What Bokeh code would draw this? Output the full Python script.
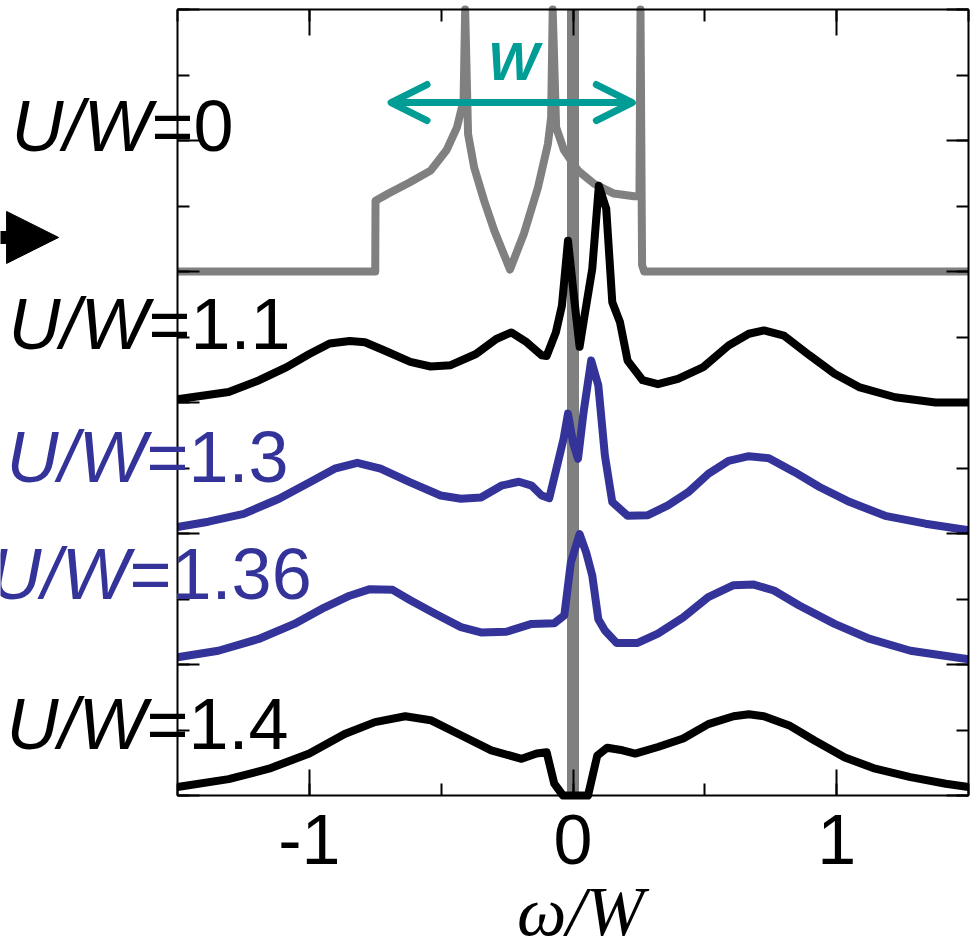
from bokeh.plotting import figure
from bokeh.models import (LinearAxis, SingleIntervalTicker, Label, Arrow,
                          OpenHead, NormalHead, CustomLabelingPolicy)
from bokeh.embed import file_html
from bokeh.resources import INLINE

# ---------------- data (spectral functions, relative to each baseline) ----
u_values = ["0", "1.1", "1.3", "1.36", "1.4"]
offsets = [8, 6, 4, 2, 0]

x_u0 = [-1.5, -0.75, -0.749, -0.70, -0.62, -0.54, -0.48, -0.44, -0.415, -0.409,
        -0.398, -0.375, -0.337, -0.299, -0.239, -0.186, -0.133, -0.095, -0.083,
        -0.077, -0.064, -0.034, 0.019, 0.080, 0.155, 0.231, 0.252, 0.256, 0.262,
        0.27, 1.5]
y_u0 = [0, 0, 1.08, 1.19, 1.36, 1.54, 1.85, 2.20, 2.61, 4.0,
        2.1, 1.59, 1.08, 0.63, 0.03, 0.58, 1.28, 1.95, 2.35,
        4.0, 2.2, 1.85, 1.54, 1.34, 1.19, 1.15, 1.15, 4.0, 0.1,
        0, 0]

x_u11 = [-1.5, -1.306, -1.19, -1.086, -1.0, -0.923, -0.847, -0.789, -0.713, -0.617,
         -0.540, -0.464, -0.368, -0.291, -0.234, -0.176, -0.119, -0.10, -0.065,
         -0.042, -0.019, 0.006, 0.025, 0.044, 0.073, 0.098, 0.126, 0.149, 0.178,
         0.207, 0.264, 0.322, 0.398, 0.494, 0.59, 0.667, 0.724, 0.80, 0.897,
         0.992, 1.088, 1.222, 1.375, 1.5]
y_u11 = [0.05, 0.16, 0.34, 0.54, 0.74, 0.90, 0.94, 0.92, 0.79, 0.62,
         0.55, 0.57, 0.74, 0.97, 1.07, 0.92, 0.72, 0.71, 1.07,
         1.48, 2.47, 1.53, 0.85, 1.33, 2.04, 3.31, 2.96, 1.53, 1.23,
         0.64, 0.34, 0.28, 0.36, 0.54, 0.87, 1.05, 1.10, 1.02, 0.72,
         0.44, 0.23, 0.08, 0.0, 0.0]

x_u13 = [-1.5, -1.383, -1.249, -1.115, -1.0, -0.904, -0.818, -0.73, -0.617, -0.502,
         -0.425, -0.349, -0.272, -0.205, -0.157, -0.119, -0.09, -0.057, -0.036,
         -0.019, 0.0, 0.019, 0.04, 0.069, 0.096, 0.121, 0.149, 0.207, 0.284,
         0.36, 0.437, 0.513, 0.59, 0.667, 0.743, 0.839, 0.935, 1.05, 1.184,
         1.337, 1.5]
y_u13 = [0.10, 0.18, 0.30, 0.53, 0.78, 0.99, 1.08, 0.99, 0.78, 0.58,
         0.53, 0.55, 0.73, 0.79, 0.73, 0.58, 0.54, 1.09, 1.44,
         1.83, 1.39, 1.14, 1.85, 2.64, 2.26, 1.19, 0.48, 0.27, 0.28,
         0.43, 0.63, 0.91, 1.11, 1.18, 1.15, 0.94, 0.71, 0.48, 0.27,
         0.15, 0.05]

x_u136 = [-1.5, -1.345, -1.192, -1.057, -0.943, -0.847, -0.77, -0.684, -0.617,
          -0.521, -0.425, -0.349, -0.253, -0.157, -0.071, -0.033, -0.008, 0.025,
          0.05, 0.073, 0.096, 0.121, 0.165, 0.245, 0.322, 0.418, 0.513, 0.609,
          0.686, 0.762, 0.858, 0.992, 1.126, 1.28, 1.5]
y_u136 = [0.11, 0.21, 0.39, 0.62, 0.87, 1.05, 1.15, 1.14, 0.98,
          0.77, 0.57, 0.49, 0.50, 0.62, 0.63, 0.75, 1.56, 1.99,
          1.71, 1.36, 0.69, 0.52, 0.33, 0.33, 0.47, 0.72, 1.03, 1.21,
          1.22, 1.13, 0.90, 0.62, 0.39, 0.21, 0.08]

x_u14 = [-1.5, -1.306, -1.153, -1.0, -0.866, -0.751, -0.636, -0.540, -0.425, -0.31,
         -0.195, -0.138, -0.10, -0.071, -0.038, 0.057, 0.092, 0.13, 0.188, 0.236,
         0.322, 0.418, 0.513, 0.609, 0.667, 0.724, 0.82, 0.916, 1.031, 1.146,
         1.28, 1.414, 1.5]
y_u14 = [0.13, 0.25, 0.41, 0.64, 0.94, 1.12, 1.21, 1.15, 0.92, 0.69,
         0.56, 0.64, 0.66, 0.18, 0.0, 0.0, 0.61, 0.73, 0.69, 0.64,
         0.74, 0.87, 1.09, 1.21, 1.24, 1.21, 1.07, 0.84, 0.58, 0.41,
         0.28, 0.18, 0.13]

xs_all = [x_u0, x_u11, x_u13, x_u136, x_u14]
ys_all = [y_u0, y_u11, y_u13, y_u136, y_u14]

x_ticks_labels = {-1: "-1", 0: "0", 1: "1"}
x_lim = (-1.5, 1.5)
y_lim = (0, 12)
band_width_span = [-0.69, 0.225]   # the "W" double arrow

# ---------------- styles / layout ----------------
GRAY = "#808080"
BLUE = "#333399"
TEAL = "#009C96"
colors = [GRAY, "black", BLUE, BLUE, "black"]
FONT = "Liberation Sans"

W_PX, H_PX = 977, 939
FRAME_L, FRAME_R, FRAME_T, FRAME_B = 177, 968, 9, 795
sx = (FRAME_R - FRAME_L) / (x_lim[1] - x_lim[0])
sy = (FRAME_B - FRAME_T) / (y_lim[1] - y_lim[0])
xr = (x_lim[0] - FRAME_L / sx, x_lim[1] + (W_PX - FRAME_R) / sx)
yr = (y_lim[0] - (H_PX - FRAME_B) / sy, y_lim[1] + FRAME_T / sy)
BASE_FIX = 0.37   # baseline correction for Label text, in em

def ybase(y, font_px):
    return y + BASE_FIX * font_px / sy

p = figure(width=W_PX, height=H_PX, x_range=xr, y_range=yr,
           output_backend="svg", toolbar_location=None,
           x_axis_location=None, y_axis_location=None,
           min_border=0, min_border_left=0, min_border_right=0,
           min_border_top=0, min_border_bottom=0)
p.background_fill_color = "white"
p.border_fill_color = "white"
p.outline_line_color = None
p.xgrid.visible = False
p.ygrid.visible = False

no_labels = CustomLabelingPolicy(code="""
try { for (const i of Array.from(indices)) indices.unset(i) } catch (e) {}
return indices
""")

def make_axis(loc, bounds, interval, major_in, minor_in, show_labels=False):
    ax = LinearAxis(fixed_location=loc, bounds=bounds,
                    ticker=SingleIntervalTicker(interval=interval, num_minor_ticks=2))
    ax.axis_line_color = "black"
    ax.axis_line_width = 2
    ax.major_tick_line_width = 2
    ax.minor_tick_line_width = 2
    ax.major_tick_line_color = "black"
    ax.minor_tick_line_color = "black"
    ax.major_tick_in = major_in
    ax.major_tick_out = 0
    ax.minor_tick_in = minor_in
    ax.minor_tick_out = 0
    if not show_labels:
        ax.major_label_policy = no_labels
        ax.major_label_text_font_size = "0px"
        ax.major_label_standoff = 0
    return ax

xb = make_axis(y_lim[0], x_lim, 1, 26, 12, show_labels=True)
xb.major_label_overrides = x_ticks_labels
xb.major_label_text_font = FONT
xb.major_label_text_font_size = "70px"
xb.major_label_text_color = "black"
xb.major_label_standoff = 19
p.add_layout(xb, "below")
p.add_layout(make_axis(y_lim[1], x_lim, 1, 26, 12), "above")
p.add_layout(make_axis(x_lim[0], y_lim, 2, 22, 12), "left")
p.add_layout(make_axis(x_lim[1], y_lim, 2, 22, 12), "right")

# vertical line at omega = 0 (behind curves)
p.line([0, 0], list(y_lim), line_color=GRAY, line_width=12, line_cap="butt")

# curves
for xs, ys, off, col in zip(xs_all, ys_all, offsets, colors):
    p.line(xs, [v + off for v in ys], line_color=col,
           line_width=8, line_join="round", line_cap="butt")

# "W" bandwidth arrow
p.add_layout(Arrow(x_start=band_width_span[0], x_end=band_width_span[1],
                   y_start=10.58, y_end=10.58, line_color=TEAL, line_width=7,
                   start=OpenHead(size=36, line_color=TEAL, line_width=7,
                                  line_cap="round", line_join="round"),
                   end=OpenHead(size=36, line_color=TEAL, line_width=7,
                                line_cap="round", line_join="round")))
p.add_layout(Label(x=-0.2257, y=ybase(10.916, 54), text="W", text_font=FONT,
                   text_font_style="bold italic", text_font_size="54px",
                   text_color=TEAL, text_align="center",
                   text_baseline="alphabetic"))

# side labels U/W=...
LAB_PX = 72
lab_x = [-1.5986, -1.610, -1.6176, -1.682, -1.6176]
lab_y = [9.817, 6.794, 4.763, 2.977, 0.687]
lab_colors = ["black", "black", BLUE, BLUE, "black"]
for u, lx, ly, lc in zip(u_values, lab_x, lab_y, lab_colors):
    p.add_layout(Label(x=lx, y=ybase(ly, LAB_PX), text="U/W", text_font=FONT,
                       text_font_style="italic", text_font_size=f"{LAB_PX}px",
                       text_color=lc, text_align="right",
                       text_baseline="alphabetic"))
    p.add_layout(Label(x=lx, y=ybase(ly, LAB_PX), text="=" + u, text_font=FONT,
                       text_font_size=f"{LAB_PX}px", text_color=lc,
                       text_align="left", text_baseline="alphabetic"))

# black arrow marker at the left
p.add_layout(Arrow(x_start=-2.285, x_end=-1.951, y_start=8.52, y_end=8.52,
                   line_color="black", line_width=13,
                   end=NormalHead(size=52, fill_color="black",
                                  line_color="black", line_width=1)))

# x-axis title
p.add_layout(Label(x=0.0284, y=ybase(-2.168, 70), text="ω/W",
                   text_font="Liberation Serif",
                   text_font_style="italic", text_font_size="70px",
                   text_color="black", text_align="center",
                   text_baseline="alphabetic"))

open("out.html", "w").write(file_html(p, INLINE))
